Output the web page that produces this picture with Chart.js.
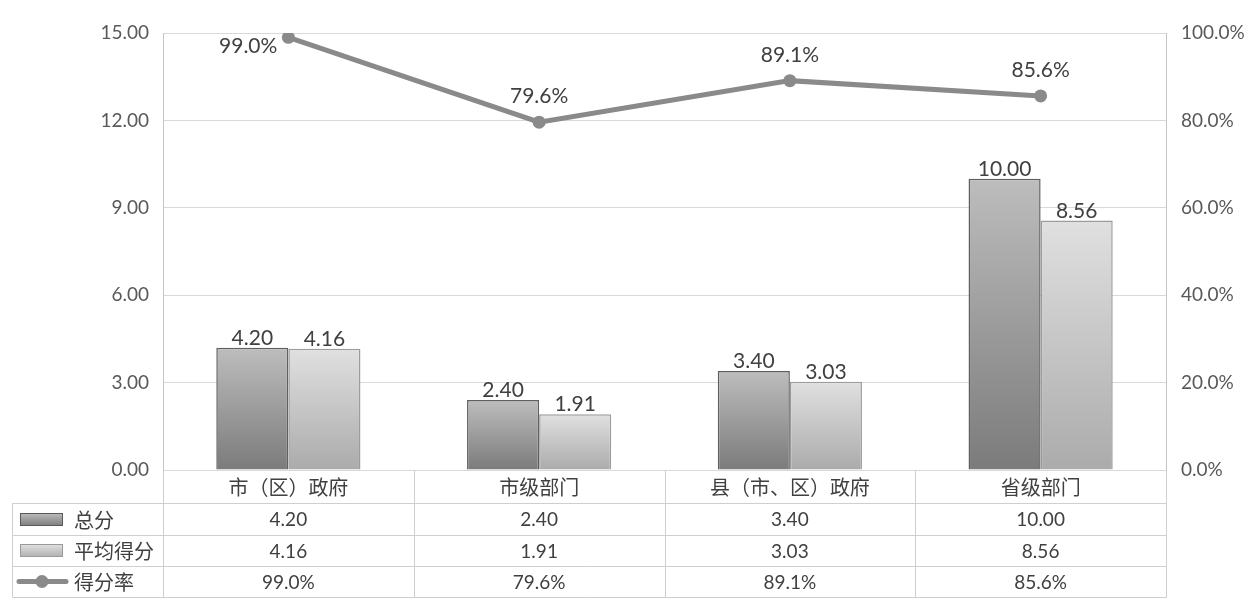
<!DOCTYPE html>
<html>
<head>
<meta charset="utf-8">
<script src="https://cdn.jsdelivr.net/npm/chart.js@4/dist/chart.umd.min.js"></script>
<style>
  html,body{margin:0;padding:0;background:#fff;}
  #wrap{width:1251px;height:611px;position:relative;}
</style>
</head>
<body>
<div id="wrap"><canvas id="c" width="1251" height="611"></canvas></div>
<script>
const categories = ['市（区）政府', '市级部门', '县（市、区）政府', '省级部门'];
const seriesNames = ['总分', '平均得分', '得分率'];
const totalScores = [4.20, 2.40, 3.40, 10.00];
const avgScores = [4.16, 1.91, 3.03, 8.56];
const scoreRates = [99.0, 79.6, 89.1, 85.6];
const leftAxis = { min: 0, max: 15, step: 3 };
const rightAxis = { min: 0, max: 100, step: 20 };

const LATIN = "Lato, 'Noto Sans CJK SC', sans-serif";
const CJK = "'Noto Sans CJK SC', Lato, sans-serif";
const TEXT = '#404040';
const TICK = '#595959';

function scriptedFill(c1, c2) {
  return function (ctx) {
    const chart = ctx.chart;
    const ys = chart.scales && chart.scales.y;
    if (!ys || !chart.chartArea || ctx.dataIndex === undefined) return c2;
    const v = ctx.dataset.data[ctx.dataIndex];
    const top = ys.getPixelForValue(v);
    const base = ys.getPixelForValue(0);
    if (!isFinite(top) || !isFinite(base) || base - top < 1) return c2;
    const g = chart.ctx.createLinearGradient(0, top, 0, base);
    g.addColorStop(0, c1);
    g.addColorStop(1, c2);
    return g;
  };
}

const labelsPlugin = {
  id: 'labelsPlugin',
  afterDatasetsDraw(chart) {
    const ctx = chart.ctx;
    ctx.save();
    ctx.font = '21px ' + LATIN;
    ctx.fillStyle = TEXT;
    ctx.textBaseline = 'alphabetic';
    [0, 1].forEach(di => {
      const meta = chart.getDatasetMeta(di);
      meta.data.forEach((bar, i) => {
        const v = chart.data.datasets[di].data[i];
        ctx.textAlign = 'center';
        ctx.fillText(v.toFixed(2), bar.x, bar.y - 3);
      });
    });
    const lm = chart.getDatasetMeta(2);
    lm.data.forEach((pt, i) => {
      const v = chart.data.datasets[2].data[i];
      const txt = v.toFixed(1) + '%';
      if (pt.y - 36 < chart.chartArea.top) {
        ctx.textAlign = 'right';
        ctx.fillText(txt, pt.x - 11, pt.y + 16);
      } else {
        ctx.textAlign = 'center';
        ctx.fillText(txt, pt.x, pt.y - 19);
      }
    });
    ctx.restore();
  }
};

const tablePlugin = {
  id: 'tablePlugin',
  afterDraw(chart) {
    const ctx = chart.ctx;
    const xs = chart.scales.x;
    const area = chart.chartArea;
    const n = categories.length;
    const half = (xs.getPixelForValue(1) - xs.getPixelForValue(0)) / 2;
    const right = area.right;
    const rows = [area.bottom, area.bottom + 33, area.bottom + 65, area.bottom + 96, area.bottom + 127];
    const tableLeft = 12;
    ctx.save();
    ctx.strokeStyle = '#cfcfcf';
    ctx.lineWidth = 1;
    const line = (x1, y1, x2, y2) => {
      ctx.beginPath();
      ctx.moveTo(Math.round(x1) + 0.5, Math.round(y1) + 0.5);
      ctx.lineTo(Math.round(x2) + 0.5, Math.round(y2) + 0.5);
      ctx.stroke();
    };
    for (let i = 0; i <= n; i++) {
      const x = i < n ? xs.getPixelForValue(i) - half : xs.getPixelForValue(n - 1) + half;
      line(x, rows[0], x, rows[4]);
    }
    line(tableLeft, rows[1], tableLeft, rows[4]);
    for (let r = 1; r <= 4; r++) line(tableLeft, rows[r], right, rows[r]);

    const rowMid = r => (rows[r] + rows[r + 1]) / 2;
    const keyX = 20, keyW = 43, keyH = 13;
    [[1, '#bdbdbd', '#7d7d7d', '#5a5a5a'], [2, '#e2e2e2', '#b0b0b0', '#9a9a9a']].forEach(([r, c1, c2, b]) => {
      const y = Math.round(rowMid(r) - keyH / 2);
      const g = ctx.createLinearGradient(0, y, 0, y + keyH);
      g.addColorStop(0, c1); g.addColorStop(1, c2);
      ctx.fillStyle = g;
      ctx.fillRect(keyX, y, keyW, keyH);
      ctx.strokeStyle = b;
      ctx.strokeRect(keyX + 0.5, y + 0.5, keyW - 1, keyH - 1);
    });
    const ly = rowMid(3);
    ctx.strokeStyle = '#8a8a8a';
    ctx.lineWidth = 5;
    ctx.lineCap = 'round';
    ctx.beginPath(); ctx.moveTo(19, ly); ctx.lineTo(66, ly); ctx.stroke();
    ctx.fillStyle = '#8a8a8a';
    ctx.beginPath(); ctx.arc(42, ly, 6.5, 0, Math.PI * 2); ctx.fill();

    ctx.fillStyle = TEXT;
    ctx.font = '20px ' + CJK;
    ctx.textAlign = 'left';
    ctx.textBaseline = 'middle';
    for (let k = 0; k < 3; k++) ctx.fillText(seriesNames[k], 74, rowMid(k + 1) + 1);

    ctx.font = '19px ' + LATIN;
    ctx.textAlign = 'center';
    for (let i = 0; i < n; i++) {
      const x = xs.getPixelForValue(i);
      ctx.fillText(totalScores[i].toFixed(2), x, rowMid(1) + 1);
      ctx.fillText(avgScores[i].toFixed(2), x, rowMid(2) + 1);
      ctx.fillText(scoreRates[i].toFixed(1) + '%', x, rowMid(3) + 1);
    }
    ctx.restore();
  }
};

new Chart(document.getElementById('c'), {
  data: {
    labels: categories,
    datasets: [
      {
        type: 'bar', label: seriesNames[0], data: totalScores, yAxisID: 'y', order: 2,
        backgroundColor: scriptedFill('#bdbdbd', '#7b7b7b'),
        borderColor: '#5f5f5f', borderWidth: 1.5,
        categoryPercentage: 0.575, barPercentage: 1.0
      },
      {
        type: 'bar', label: seriesNames[1], data: avgScores, yAxisID: 'y', order: 2,
        backgroundColor: scriptedFill('#e0e0e0', '#ababab'),
        borderColor: '#9c9c9c', borderWidth: 1.5,
        categoryPercentage: 0.575, barPercentage: 1.0
      },
      {
        type: 'line', label: seriesNames[2], data: scoreRates, yAxisID: 'y1', order: 1,
        borderColor: '#8a8a8a', borderWidth: 5, tension: 0,
        pointRadius: 6.5, pointBackgroundColor: '#8a8a8a', pointBorderColor: '#8a8a8a', pointBorderWidth: 0
      }
    ]
  },
  options: {
    responsive: false,
    animation: false,
    devicePixelRatio: 1,
    layout: { padding: { top: 33, left: 0, right: 0, bottom: 0 } },
    plugins: { legend: { display: false }, tooltip: { enabled: false } },
    scales: {
      x: {
        grid: { display: false },
        border: { display: false },
        ticks: { font: { family: CJK, size: 20 }, color: TEXT, padding: -3, maxRotation: 0 },
        afterFit(s) { s.height = 141; }
      },
      y: {
        position: 'left',
        min: leftAxis.min, max: leftAxis.max,
        ticks: { stepSize: leftAxis.step, font: { family: LATIN, size: 19 }, color: TICK, padding: 14,
                 callback: v => v.toFixed(2) },
        grid: { color: '#d9d9d9', lineWidth: 1, drawTicks: false },
        border: { display: true, color: '#c4c4c4', width: 1 },
        afterFit(s) { s.width = 163; }
      },
      y1: {
        position: 'right',
        min: rightAxis.min, max: rightAxis.max,
        ticks: { stepSize: rightAxis.step, font: { family: LATIN, size: 19 }, color: TICK, padding: 15,
                 callback: v => v.toFixed(1) + '%' },
        grid: { display: false, drawTicks: false },
        border: { display: true, color: '#c4c4c4', width: 1 },
        afterFit(s) { s.width = 85; }
      }
    }
  },
  plugins: [labelsPlugin, tablePlugin]
});
</script>
</body>
</html>
